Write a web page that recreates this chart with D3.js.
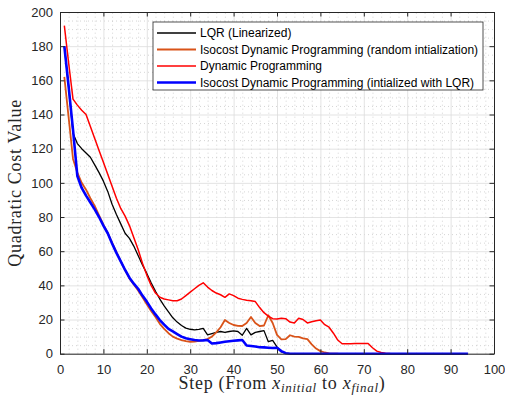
<!DOCTYPE html>
<html lang="en">
<head>
<meta charset="UTF-8">
<title>Quadratic Cost per Step</title>
<script src="https://d3js.org/d3.v7.min.js"></script>
<style>
    body, html { margin: 0; padding: 0; background: #fff; overflow: hidden; }
    svg { display: block; }
    .tick text { font-family: "Liberation Sans", Arial, sans-serif; font-size: 13px; fill: #262626; }
</style>
</head>
<body>
<div id="chart"></div>
<script>
// values per step (step 1 .. n)
const lqr = [180, 156, 129, 123, 120, 117.5, 115, 110.5, 106, 101,
    95, 87.5, 81.5, 76, 70.5, 67.5, 63, 57.5, 52, 47,
    41.5, 36.5, 32, 28, 24.5, 21, 18.5, 16.5, 15, 14.3,
    14, 14.2, 14.8, 11, 11.8, 12.5, 13, 12.5, 13, 13.3,
    13, 10.8, 14.8, 11, 12.5, 13, 13.5, 7, 7.8, 4,
    1, 0.3, 0, 0, 0];
const isoRandom = [162, 138, 114, 106, 100, 96, 91, 86.5, 81, 75.5,
    70.5, 65, 59.5, 54, 49, 44, 40.5, 37, 33, 29,
    25, 21.5, 17.5, 14.5, 12, 10, 8.8, 8, 7.3, 7,
    7.1, 7.5, 8, 8.6, 10, 12.5, 15.5, 19.7, 18, 16.8,
    16.3, 16.2, 18, 21.5, 18, 16.2, 16.5, 22.5, 18, 11,
    8.4, 8.5, 10.8, 10, 9.8, 9, 8.5, 5.5, 3, 1.5,
    0.7, 0.2, 0, 0];
const dp = [192, 170, 149, 145.5, 142.5, 140, 133, 126, 119, 112,
    105, 98, 91, 85, 80.5, 75, 68, 61, 53, 46,
    40, 35.5, 33, 32, 31.5, 31, 31, 32, 34, 36,
    38, 40, 41.5, 39, 37, 35.5, 34.5, 33, 35, 34,
    32.5, 31.8, 31.3, 31, 30.5, 27, 24, 22, 20.5, 20.3,
    20.7, 20.5, 18.5, 18, 20.8, 20, 18, 18.7, 19.3, 19.7,
    17, 15.5, 12, 8, 5.8, 5.8, 5.8, 5.9, 6, 6,
    6, 3.5, 1.5, 0.7, 0.3, 0.1, 0, 0];
const isoLqr = [180, 156, 131, 104, 97, 92.5, 88.5, 84.5, 80, 75,
    70.5, 64.5, 59, 54, 49, 44.5, 41, 38, 34, 30.5,
    26.5, 23, 19.7, 17, 14.5, 13, 11.5, 10, 9, 8.5,
    8, 7.7, 7.8, 8, 6, 6.2, 6.6, 7, 7.3, 7.6,
    7.8, 8, 4.8, 4.5, 4.2, 3.8, 3.7, 3.5, 3.3, 3.5,
    1.5, 0.3, 0, 0, 0, 0, 0, 0, 0, 0,
    0, 0, 0, 0, 0, 0, 0, 0, 0, 0,
    0, 0, 0, 0, 0, 0, 0, 0, 0, 0,
    0, 0, 0, 0, 0, 0, 0, 0, 0, 0,
    0, 0, 0, 0];

const xTicks = [0, 10, 20, 30, 40, 50, 60, 70, 80, 90, 100];
const yTicks = [0, 20, 40, 60, 80, 100, 120, 140, 160, 180, 200];

const series = [
    {name: "LQR (Linearized)", values: lqr, color: "#000000", width: 1.3},
    {name: "Isocost Dynamic Programming (random intialization)", values: isoRandom, color: "#D95319", width: 1.8},
    {name: "Dynamic Programming", values: dp, color: "#FF0000", width: 1.5},
    {name: "Isocost Dynamic Programming (intialized with LQR)", values: isoLqr, color: "#0000FF", width: 2.6}
];

const width = 505, height = 401;
const margin = {top: 12, right: 11, bottom: 47.3, left: 60};
const innerWidth = width - margin.left - margin.right;
const innerHeight = height - margin.top - margin.bottom;

const svg = d3.select("#chart").append("svg")
    .attr("width", width)
    .attr("height", height);

const g = svg.append("g")
    .attr("transform", `translate(${margin.left},${margin.top})`);

const x = d3.scaleLinear().domain([0, 100]).range([0, innerWidth]);
const y = d3.scaleLinear().domain([0, 200]).range([innerHeight, 0]);

function gridLines(a, color, dash, w) {
    a.select(".domain").remove();
    a.selectAll("text").remove();
    a.selectAll("line").attr("stroke", color).attr("stroke-width", w);
    if (dash) a.selectAll("line").attr("stroke-dasharray", dash);
}

// minor grid (dotted)
g.append("g")
    .attr("transform", `translate(0,${innerHeight})`)
    .call(d3.axisBottom(x).tickValues(d3.range(2, 100, 2).filter(d => d % 10 !== 0)).tickSize(-innerHeight))
    .call(a => gridLines(a, "#b8b8b8", "1,3", 0.6));
g.append("g")
    .call(d3.axisLeft(y).tickValues(d3.range(5, 200, 5).filter(d => d % 20 !== 0)).tickSize(-innerWidth))
    .call(a => gridLines(a, "#b8b8b8", "1,3", 0.6));

// major grid
g.append("g")
    .attr("transform", `translate(0,${innerHeight})`)
    .call(d3.axisBottom(x).tickValues(xTicks).tickSize(-innerHeight))
    .call(a => gridLines(a, "#dcdcdc", null, 0.8));
g.append("g")
    .call(d3.axisLeft(y).tickValues(yTicks).tickSize(-innerWidth))
    .call(a => gridLines(a, "#dcdcdc", null, 0.8));

// lines
const line = d3.line()
    .x((d, i) => x(i + 1))
    .y(d => y(d));

series.forEach(s => {
    g.append("path")
        .datum(s.values)
        .attr("fill", "none")
        .attr("stroke", s.color)
        .attr("stroke-width", s.width)
        .attr("stroke-linejoin", "round")
        .attr("d", line);
});

// axes with inward ticks on all four sides
const axisColor = "#262626";
function styleAxis(a) {
    a.select(".domain").attr("stroke", axisColor).attr("stroke-width", 1);
    a.selectAll(".tick line").attr("stroke", axisColor);
}
g.append("g")
    .attr("transform", `translate(0,${innerHeight})`)
    .call(d3.axisBottom(x).tickValues(xTicks).tickSizeInner(-4.5).tickSizeOuter(0))
    .call(styleAxis)
    .call(a => a.selectAll(".tick text").attr("y", 20).attr("dy", null));
g.append("g")
    .call(d3.axisLeft(y).tickValues(yTicks).tickSizeInner(-4.5).tickSizeOuter(0).tickPadding(7))
    .call(styleAxis);
g.append("g")
    .call(d3.axisTop(x).tickValues(xTicks).tickSizeInner(-4.5).tickSizeOuter(0))
    .call(styleAxis)
    .call(a => a.selectAll("text").remove());
g.append("g")
    .attr("transform", `translate(${innerWidth},0)`)
    .call(d3.axisRight(y).tickValues(yTicks).tickSizeInner(-4.5).tickSizeOuter(0))
    .call(styleAxis)
    .call(a => a.selectAll("text").remove());

// axis labels
svg.append("text")
    .attr("transform", `translate(21,${margin.top + innerHeight / 2}) rotate(-90)`)
    .attr("text-anchor", "middle")
    .style("font-family", "'Liberation Serif', 'DejaVu Serif', serif")
    .style("font-size", "18px")
    .style("letter-spacing", "0.7px")
    .style("fill", axisColor)
    .text("Quadratic Cost Value");

const xl = svg.append("text")
    .attr("x", margin.left + innerWidth / 2 + 5)
    .attr("y", 389)
    .attr("text-anchor", "middle")
    .style("font-family", "'Liberation Serif', 'DejaVu Serif', serif")
    .style("font-size", "18px")
    .style("letter-spacing", "0.7px")
    .style("fill", axisColor);
xl.append("tspan").text("Step (From ");
xl.append("tspan").style("font-style", "italic").text("x");
xl.append("tspan").style("font-style", "italic").style("font-size", "13px").attr("dy", 3).text("initial");
xl.append("tspan").attr("dy", -3).text(" to ");
xl.append("tspan").style("font-style", "italic").text("x");
xl.append("tspan").style("font-style", "italic").style("font-size", "13px").attr("dy", 3).text("final");
xl.append("tspan").attr("dy", -3).text(")");

// legend
const legend = g.append("g").attr("transform", `translate(${153 - margin.left},${22 - margin.top})`);
legend.append("rect")
    .attr("width", 330)
    .attr("height", 68)
    .attr("fill", "#fff")
    .attr("stroke", axisColor)
    .attr("stroke-width", 0.8);
const items = legend.selectAll(".legend")
    .data(series)
    .enter().append("g")
    .attr("class", "legend")
    .attr("transform", (d, i) => `translate(0,${11 + i * 16.5})`);
items.append("line")
    .attr("x1", 4).attr("x2", 43)
    .attr("stroke", d => d.color)
    .attr("stroke-width", d => d.width);
items.append("text")
    .attr("x", 47)
    .attr("dy", "0.35em")
    .style("font-family", "'Liberation Sans', Arial, sans-serif")
    .style("font-size", "12px")
    .style("fill", "#000")
    .text(d => d.name);
</script>
</body>
</html>
